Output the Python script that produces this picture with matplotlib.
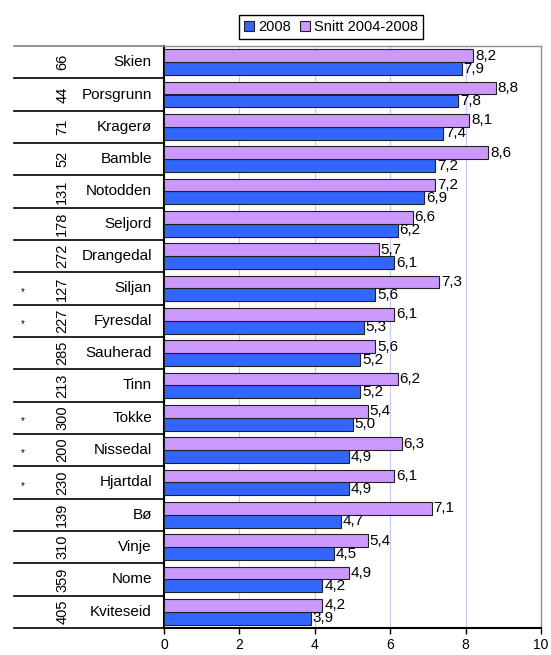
"""Horizontal bar chart: 2008 vs average 2004-2008 per municipality."""
import matplotlib
matplotlib.use("Agg")
import matplotlib.pyplot as plt
import numpy as np

names = ["Skien", "Porsgrunn", "Kragerø", "Bamble", "Notodden", "Seljord",
         "Drangedal", "Siljan", "Fyresdal", "Sauherad", "Tinn", "Tokke",
         "Nissedal", "Hjartdal", "Bø", "Vinje", "Nome", "Kviteseid"]
ranks = ["66", "44", "71", "52", "131", "178", "272", "127", "227", "285",
         "213", "300", "200", "230", "139", "310", "359", "405"]
stars = ["", "", "", "", "", "", "", "*", "*", "", "", "*", "*", "*",
         "", "", "", ""]
val_2008 = [7.9, 7.8, 7.4, 7.2, 6.9, 6.2, 6.1, 5.6, 5.3, 5.2, 5.2, 5.0,
            4.9, 4.9, 4.7, 4.5, 4.2, 3.9]
val_avg = [8.2, 8.8, 8.1, 8.6, 7.2, 6.6, 5.7, 7.3, 6.1, 5.6, 6.2, 5.4,
           6.3, 6.1, 7.1, 5.4, 4.9, 4.2]
xticks = [0, 2, 4, 6, 8, 10]

BLUE = "#3366FF"
VIOLET = "#CC99FF"

plt.rcParams["font.family"] = ["Liberation Sans", "DejaVu Sans"]

fig = plt.figure(figsize=(5.51, 6.55), dpi=100)
ax = fig.add_axes([164 / 551, 1 - 628 / 655, 377 / 551, 582 / 655])

y = np.arange(len(names))
h = 0.4
b1 = ax.barh(y + h / 2, val_2008, height=h, color=BLUE, edgecolor="#202020",
             linewidth=0.8, label="2008", zorder=3)
b2 = ax.barh(y - h / 2, val_avg, height=h, color=VIOLET, edgecolor="#202020",
             linewidth=0.8, label="Snitt 2004-2008", zorder=3)

for bars in (b1, b2):
    for rect in bars:
        w = rect.get_width()
        ax.text(w + 0.05, rect.get_y() + rect.get_height() / 2,
                f"{w:.1f}".replace(".", ","), va="center", ha="left",
                fontsize=11, zorder=4)

ax.set_xlim(0, 10)
ax.set_ylim(len(names) - 0.5, -0.5)
ax.set_xticks(xticks)
ax.set_xticklabels([str(t) for t in xticks], fontsize=10)
ax.set_yticks([])
ax.tick_params(axis="x", length=4, width=1, direction="out", pad=3)
ax.grid(axis="x", color="#C8C8F0", linewidth=0.8, zorder=0)

for side in ("top", "right"):
    ax.spines[side].set_color("#909090")
    ax.spines[side].set_linewidth(1)
ax.spines["left"].set_linewidth(1.5)
ax.spines["bottom"].set_linewidth(1.5)

# table on the left side
tr = ax.get_yaxis_transform()
for i in range(len(names)):
    ax.text(-0.032, i, names[i], transform=tr, ha="right", va="center",
            fontsize=11)
    ax.text(-0.27, i, ranks[i], transform=tr, ha="center", va="center",
            rotation=90, fontsize=10.5)
    if stars[i]:
        ax.text(-0.374, i + 0.1, stars[i], transform=tr, ha="center",
                va="center", fontsize=7)
for k in range(len(names) + 1):
    yy = k - 0.5
    col = "#808080" if k == 0 else "black"
    ax.plot([-0.398, 0.0], [yy, yy], transform=tr, color=col,
            linewidth=1.2, clip_on=False, zorder=5)

fig.legend(handles=[b1, b2], loc="center", ncol=2,
           bbox_to_anchor=(331 / 551, 1 - 27 / 655), fontsize=10.5,
           frameon=True, fancybox=False, edgecolor="black",
           handlelength=0.7, handleheight=0.7, handletextpad=0.3,
           columnspacing=0.6, borderpad=0.35, framealpha=1)

fig.savefig("out.png", dpi=100)
